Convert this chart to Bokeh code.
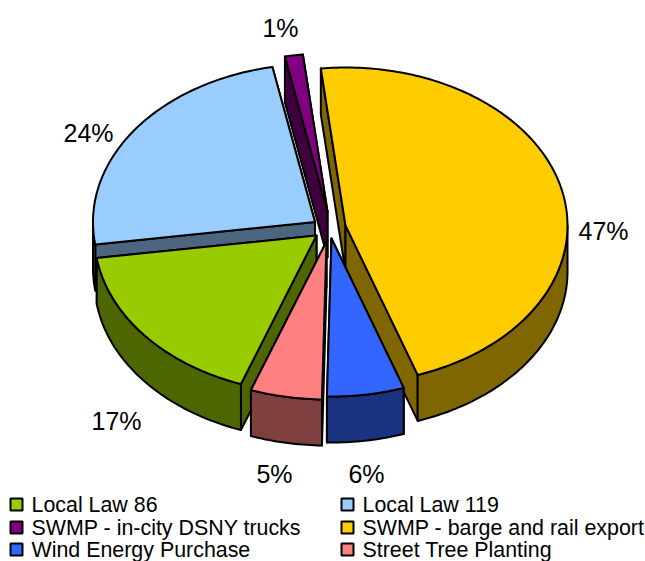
import math
from bokeh.plotting import figure
from bokeh.models import Range1d
from bokeh.core.properties import value
from bokeh.embed import file_html
from bokeh.resources import INLINE

# data
categories = ["Local Law 86", "Local Law 119", "SWMP - in-city DSNY trucks",
              "SWMP - barge and rail export", "Wind Energy Purchase", "Street Tree Planting"]
shares = [17.2, 24.2, 1.3, 46.5, 5.6, 5.2]
share_labels = ["17%", "24%", "1%", "47%", "6%", "5%"]

# styles
top_colors = ["#99CC00", "#99CCFF", "#800080", "#FFCC00", "#3366FF", "#FF8080"]
side_colors = ["#4D6600", "#4D6680", "#400040", "#806600", "#1A3380", "#804040"]

# layout (pixel-like data space of the page)
first_angle = 199.9
rx, ry = 222.0, 158.0
depth = 46.0
apexes = [(316, 235), (314.5, 221.5), (327, 211), (345, 225), (331, 238), (326, 241)]
label_pos = [(116, 420), (88, 132), (280, 27), (603, 230), (366, 473), (274, 473)]
paint_order = [2, 3, 1, 0, 5, 4]
font = value("Liberation Sans")

p = figure(width=645, height=561, x_range=Range1d(0, 645), y_range=Range1d(561, 0),
           output_backend="svg", toolbar_location=None, min_border=0,
           x_axis_type=None, y_axis_type=None, outline_line_color=None)
p.grid.visible = False
p.background_fill_color = "white"
p.border_fill_color = "white"

spans = []
a = first_angle
for s in shares:
    spans.append((a, a + s * 3.6))
    a += s * 3.6


def rim(c, t0, t1):
    n = max(2, int(abs(t1 - t0)) + 1)
    out = []
    for i in range(n + 1):
        t = math.radians(t0 + (t1 - t0) * i / n)
        out.append((c[0] + rx * math.sin(t), c[1] - ry * math.cos(t)))
    return out


def poly(points, fill):
    p.patch([q[0] for q in points], [q[1] for q in points], fill_color=fill,
            line_color="black", line_width=2, line_join="round")


for i in paint_order:
    c = apexes[i]
    t0, t1 = spans[i]
    top = rim(c, t0, t1)
    down = lambda q: (q[0], q[1] + depth)
    # radial walls, the farther one first
    for e in sorted((top[0], top[-1]), key=lambda q: q[1]):
        poly([c, e, down(e), down(c)], side_colors[i])
    # outer wall: the part of the rim that faces the viewer (90..270 degrees)
    for k in (-360, 0, 360):
        lo, hi = max(t0, 90 + k), min(t1, 270 + k)
        if hi > lo:
            arc = rim(c, lo, hi)
            poly(arc + [down(q) for q in reversed(arc)], side_colors[i])
    poly([c] + top, top_colors[i])

p.text([q[0] for q in label_pos], [q[1] for q in label_pos], text=share_labels,
       text_font=font, text_font_size="25px", text_color="black",
       text_align="center", text_baseline="middle")

legend_x = [10, 341]
legend_y = [504, 527, 549]
order = [(0, 0, 0), (1, 1, 0), (2, 0, 1), (3, 1, 1), (4, 0, 2), (5, 1, 2)]
for i, col, row in order:
    x, y = legend_x[col], legend_y[row]
    p.quad(left=[x], right=[x + 12], top=[y - 6], bottom=[y + 6],
           fill_color=top_colors[i], line_color="black", line_width=2)
    p.text([x + 21], [y], text=[categories[i]], text_font=font, text_font_size="21.4px",
           text_color="black", text_align="left", text_baseline="middle")

open("out.html", "w").write(file_html(p, INLINE))
